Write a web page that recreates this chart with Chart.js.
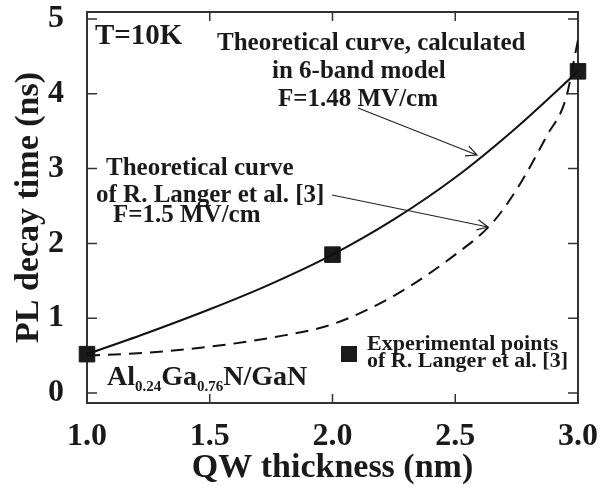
<!DOCTYPE html>
<html>
<head>
<meta charset="utf-8">
<script src="https://cdn.jsdelivr.net/npm/chart.js@4"></script>
<style>
  html, body { margin: 0; padding: 0; background: #fff; }
  #wrap { width: 600px; height: 493px; }
</style>
</head>
<body>
<div id="wrap"><canvas id="chart"></canvas></div>
<script>
// thickness (nm) / decay time (ns)
const sixBandX = [1.0, 1.25, 1.5, 1.75, 2.0, 2.25, 2.5, 2.75, 3.0];
const sixBandY = [0.52, 0.81, 1.12, 1.46, 1.85, 2.32, 2.88, 3.55, 4.30];
const langerX = [1.0, 1.25, 1.5, 1.75, 2.0, 2.25, 2.5, 2.65, 2.75, 2.875, 2.95, 3.0];
const langerY = [0.50, 0.54, 0.62, 0.74, 0.92, 1.30, 1.85, 2.27, 2.72, 3.45, 3.93, 4.72];
const expX = [1.0, 2.0, 3.0];
const expY = [0.52, 1.85, 4.30];
const xTicks = [1.0, 1.5, 2.0, 2.5, 3.0];
const yTicks = [0, 1, 2, 3, 4, 5];

const pts = (xs, ys) => xs.map((v, i) => ({x: v, y: ys[i]}));
const serif = '"Liberation Serif", "Times New Roman", serif';

function arrow(ctx, x1, y1, x2, y2) {
  const a = Math.atan2(y2 - y1, x2 - x1);
  const len = 12, spread = 0.45;
  ctx.beginPath();
  ctx.moveTo(x1, y1);
  ctx.lineTo(x2, y2);
  ctx.moveTo(x2 - len * Math.cos(a - spread), y2 - len * Math.sin(a - spread));
  ctx.lineTo(x2, y2);
  ctx.lineTo(x2 - len * Math.cos(a + spread), y2 - len * Math.sin(a + spread));
  ctx.stroke();
}

const frame = {
  id: 'frame',
  beforeDatasetsDraw(chart) {
    const {ctx, chartArea: a, scales: {x, y}} = chart;
    ctx.save();
    ctx.strokeStyle = '#333';
    ctx.lineWidth = 2;
    ctx.strokeRect(a.left, a.top, a.right - a.left, a.bottom - a.top);
    ctx.lineWidth = 1.5;
    ctx.beginPath();
    xTicks.forEach(v => {
      const p = x.getPixelForValue(v);
      ctx.moveTo(p, a.bottom); ctx.lineTo(p, a.bottom - 9);
      ctx.moveTo(p, a.top); ctx.lineTo(p, a.top + 9);
    });
    yTicks.forEach(v => {
      const p = y.getPixelForValue(v);
      ctx.moveTo(a.left, p); ctx.lineTo(a.left + 10, p);
      ctx.moveTo(a.right, p); ctx.lineTo(a.right - 10, p);
    });
    ctx.stroke();
    ctx.restore();
  },
  afterDatasetsDraw(chart) {
    const ctx = chart.ctx;
    ctx.save();
    ctx.fillStyle = '#1a1a1a';
    ctx.textBaseline = 'alphabetic';
    ctx.textAlign = 'left';

    ctx.font = 'bold 29px ' + serif;
    ctx.fillText('T=10K', 95, 44);

    ctx.font = 'bold 25px ' + serif;
    ctx.fillText('Theoretical curve, calculated', 217, 50);
    ctx.fillText('in 6-band model', 272, 78);
    ctx.fillText('F=1.48 MV/cm', 278, 106);
    ctx.fillText('Theoretical curve', 106, 175);
    ctx.fillText('of R. Langer et al. [3]', 96, 202);
    ctx.fillText('F=1.5 MV/cm', 113, 222);

    // Al0.24Ga0.76N/GaN
    let cx = 107;
    const base = 385;
    const part = (t, size, dy) => {
      ctx.font = 'bold ' + size + 'px ' + serif;
      ctx.fillText(t, cx, base + dy);
      cx += ctx.measureText(t).width;
    };
    part('Al', 28, 0);
    part('0.24', 15, 6);
    part('Ga', 28, 0);
    part('0.76', 15, 6);
    part('N/GaN', 28, 0);

    // legend
    ctx.fillRect(341, 346, 16, 16);
    ctx.font = 'bold 22px ' + serif;
    ctx.fillText('Experimental points', 367, 350);
    ctx.fillText('of R. Langer et al. [3]', 367, 367);

    ctx.strokeStyle = '#222';
    ctx.lineWidth = 1.2;
    arrow(ctx, 358, 108, 477, 155);
    arrow(ctx, 332, 195, 488, 227);
    ctx.restore();
  }
};

new Chart(document.getElementById('chart'), {
  type: 'scatter',
  data: {
    datasets: [
      {
        label: 'Theoretical curve, 6-band model',
        data: pts(sixBandX, sixBandY),
        showLine: true,
        borderColor: '#111',
        borderWidth: 2,
        pointRadius: 0,
        cubicInterpolationMode: 'monotone'
      },
      {
        label: 'Theoretical curve of R. Langer et al. [3]',
        data: pts(langerX, langerY),
        showLine: true,
        borderColor: '#111',
        borderWidth: 2,
        borderDash: [13, 8],
        pointRadius: 0,
        cubicInterpolationMode: 'monotone'
      },
      {
        label: 'Experimental points of R. Langer et al. [3]',
        data: pts(expX, expY),
        pointStyle: 'rect',
        pointRadius: 11,
        backgroundColor: '#1a1a1a',
        borderColor: '#1a1a1a',
        borderWidth: 1,
        clip: false
      }
    ]
  },
  options: {
    responsive: true,
    maintainAspectRatio: false,
    animation: false,
    layout: {padding: {left: 0, right: 22, top: 11, bottom: 0}},
    plugins: {legend: {display: false}, tooltip: {enabled: false}},
    scales: {
      x: {
        type: 'linear',
        min: 1,
        max: 3,
        grid: {display: false},
        border: {display: false},
        afterBuildTicks: s => { s.ticks = xTicks.map(v => ({value: v})); },
        afterFit: s => { s.height = 90; s.paddingLeft = 0; s.paddingRight = 0; },
        ticks: {
          padding: 7,
          color: '#1a1a1a',
          font: {family: serif, size: 32, weight: 'bold'},
          callback: v => Number(v).toFixed(1)
        },
        title: {
          display: true,
          text: 'QW thickness (nm)',
          color: '#1a1a1a',
          font: {family: serif, size: 34, weight: 'bold'},
          padding: {top: 0, bottom: 4}
        }
      },
      y: {
        min: -0.133,
        max: 5.093,
        grid: {display: false},
        border: {display: false},
        afterBuildTicks: s => { s.ticks = yTicks.map(v => ({value: v})); },
        afterFit: s => { s.width = 87; s.paddingTop = 0; s.paddingBottom = 0; },
        ticks: {
          padding: 15,
          color: '#1a1a1a',
          font: {family: serif, size: 32, weight: 'bold'}
        },
        title: {
          display: true,
          text: 'PL decay time (ns)',
          color: '#1a1a1a',
          font: {family: serif, size: 34, weight: 'bold'},
          padding: {top: 9, bottom: 0}
        }
      }
    }
  },
  plugins: [frame]
});
</script>
</body>
</html>
